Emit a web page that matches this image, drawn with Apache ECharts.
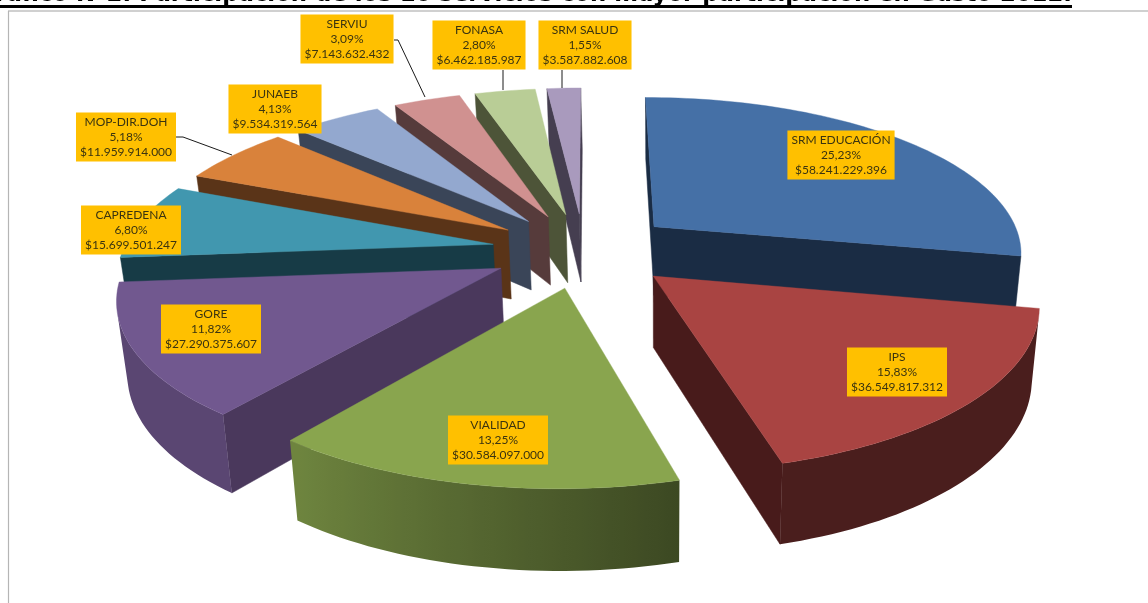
<!DOCTYPE html>
<html>
<head>
<meta charset="utf-8">
<style>html,body{margin:0;padding:0;background:#fff}#c{width:1148px;height:603px}</style>
<script src="https://cdn.jsdelivr.net/npm/echarts@6/dist/echarts.min.js"></script>
</head>
<body>
<div id="c"></div>
<script>
// ---- data ----
const services = ['SRM EDUCACIÓN','IPS','VIALIDAD','GORE','CAPREDENA','MOP-DIR.DOH','JUNAEB','SERVIU','FONASA','SRM SALUD'];
const amounts = [58241229396,36549817312,30584097000,27290375607,15699501247,11959914000,9534319564,7143632432,6462185987,3587882608];
const amountLabels = ['$58.241.229.396','$36.549.817.312','$30.584.097.000','$27.290.375.607','$15.699.501.247','$11.959.914.000','$9.534.319.564','$7.143.632.432','$6.462.185.987','$3.587.882.608'];
const shares = ['25,23%','15,83%','13,25%','11,82%','6,80%','5,18%','4,13%','3,09%','2,80%','1,55%'];
const titleText = 'Gráfico N°2: Participación de los 10 servicios con mayor participación en Gasto 2012.';

// ---- styles ----
const topColors = ['#4570a6','#a94442','#89a54e','#71588f','#4197af','#d9823b','#93a8cf','#d09190','#b9cd96','#a99abd'];
const cutColors = ['#1a2c44','#481b1b','#3a4a20','#4a385c','#173b46','#5a3418','#3a4558','#563b3b','#4d5438','#453e50'];

// ---- view model ----
const view = {vx:584, cy:250, A:370, B:156, p:0.156, shear:2.5, explodeX:0.25, explodeY:0.24, rot:-0.25, H:70, pH:0.12, vb:660, kb:0.02};
const labelCenters = [[841,155],[897,372],[498,440],[211,329],[131,230],[126,137],[275,109],[347,39],[479,45],[585,45]];
const leaders = [null,null,null,null,null,[[176,137],[183,137],[232,155]],null,[[394,40],[398,40],[425,97]],[[503,70],[503,90]],[[562,70],[562,88]]];

const total = amounts.reduce((a,b)=>a+b,0);
const rad = d => d*Math.PI/180;
function proj(X,Y){
  const w = 1+view.p*Y;
  return [view.vx+(view.A*X+view.shear*Y)/w, view.cy-view.B*Y/w];
}
function lower(X,Y,pt){
  const h = view.H/(1+view.pH*Y);
  return [pt[0]+(view.vb-pt[0])*view.kb, pt[1]+h];
}
function hexMul(hex,f){
  const n=parseInt(hex.slice(1),16);
  const c=[(n>>16)&255,(n>>8)&255,n&255].map(v=>Math.round(v*f));
  return 'rgb('+c.join(',')+')';
}
function rimShade(deg){
  if(deg<=165) return 0.44;
  if(deg>=216) return 0.8;
  return 0.44+(deg-165)/(216-165)*0.36;
}
function area(p){let s=0;for(let i=0;i<p.length;i++){const a=p[i],b=p[(i+1)%p.length];s+=a[0]*b[1]-b[0]*a[1];}return s;}

const starts=[];let acc=view.rot;
amounts.forEach(v=>{starts.push(acc);acc+=v/total*360;});
const mids=amounts.map((v,i)=>starts[i]+v/total*180);
const rankOrder=mids.map((m,i)=>[Math.cos(rad(m)),i]).sort((a,b)=>b[0]-a[0]).map(x=>x[1]);

function renderSlice(params,api){
  const i=params.dataIndex;
  const value=api.value(0);
  const a0=starts[i], a1=a0+value/total*360, mid=(a0+a1)/2;
  const ox=view.explodeX*Math.sin(rad(mid)), oy=view.explodeY*Math.cos(rad(mid));
  const base=(rankOrder.indexOf(i)+1)*10;
  const children=[];
  const pts=[];
  const steps=Math.max(3,Math.ceil((a1-a0)/1.5));
  for(let k=0;k<=steps;k++){
    const d=a0+(a1-a0)*k/steps;
    pts.push({X:ox+Math.sin(rad(d)),Y:oy+Math.cos(rad(d)),d});
  }
  const apex={X:ox,Y:oy};
  const ring=[apex].concat(pts);
  const T=ring.map(q=>proj(q.X,q.Y));
  const L=ring.map((q,j)=>lower(q.X,q.Y,T[j]));
  const n=ring.length;
  // straight cut walls
  [0,n-1].forEach(j=>{
    const b=(j+1)%n;
    const quad=[T[j],T[b],L[b],L[j]];
    if(area(quad)<0) children.push({type:'polygon',z2:base+1,shape:{points:quad},style:{fill:cutColors[i],stroke:cutColors[i],lineWidth:0.5}});
  });
  // curved rim: one polygon for the visible run of the arc, shaded across its width
  let upper=[],under=[],stops=[];
  for(let j=1;j<n-1;j++){
    const quad=[T[j],T[j+1],L[j+1],L[j]];
    if(area(quad)<0){
      if(!upper.length){upper.push(T[j]);under.push(L[j]);stops.push([T[j][0],ring[j].d]);}
      upper.push(T[j+1]);under.push(L[j+1]);stops.push([T[j+1][0],ring[j+1].d]);
    }
  }
  if(upper.length){
    const xs=stops.map(s=>s[0]);const xMin=Math.min(...xs),xMax=Math.max(...xs);
    const span=Math.max(1,xMax-xMin);
    const colorStops=stops.map(s=>({offset:(s[0]-xMin)/span,color:hexMul(topColors[i],rimShade(s[1]))}))
      .sort((a,b)=>a.offset-b.offset);
    const fill=new echarts.graphic.LinearGradient(xMin,0,xMax,0,colorStops,true);
    children.push({type:'polygon',z2:base+2,shape:{points:upper.concat(under.reverse())},style:{fill}});
  }
  children.push({type:'polygon',z2:base+5,shape:{points:T},style:{fill:topColors[i],stroke:topColors[i],lineWidth:0.4}});
  if(leaders[i]){
    children.push({type:'polyline',z2:200,shape:{points:leaders[i]},style:{fill:null,stroke:'#1a1a1a',lineWidth:1}});
  }
  const c=labelCenters[i];
  children.push({type:'text',z2:300,x:c[0],y:c[1],style:{
    text:services[i]+'\n'+shares[i]+'\n'+amountLabels[i],
    align:'center',verticalAlign:'middle',
    font:'12px Lato',lineHeight:15,fill:'#3b3410',
    backgroundColor:'#ffc000',padding:[2,4,2,4]
  }});
  return {type:'group',children};
}

const chart=echarts.init(document.getElementById('c'),null,{renderer:'canvas'});
chart.setOption({
  animation:false,
  backgroundColor:'#ffffff',
  title:{text:titleText,right:76,top:-16,padding:0,textStyle:{fontFamily:'DejaVu Sans',fontWeight:'bold',fontSize:22.8,color:'#000'}},
  graphic:[
    {type:'line',z:1,shape:{x1:0,y1:6.5,x2:1072,y2:6.5},style:{stroke:'#000',lineWidth:3}},
    {type:'line',z:1,shape:{x1:8,y1:11,x2:1148,y2:11},style:{stroke:'#c0c0c0',lineWidth:1.5}},
    {type:'line',z:1,shape:{x1:8.5,y1:11,x2:8.5,y2:603},style:{stroke:'#b5b5b5',lineWidth:1.2}}
  ],
  series:[{
    type:'custom',coordinateSystem:'none',silent:true,clip:false,
    renderItem:renderSlice,
    data:amounts.map((v,i)=>({name:services[i],value:[v]}))
  }]
});
</script>
</body>
</html>
